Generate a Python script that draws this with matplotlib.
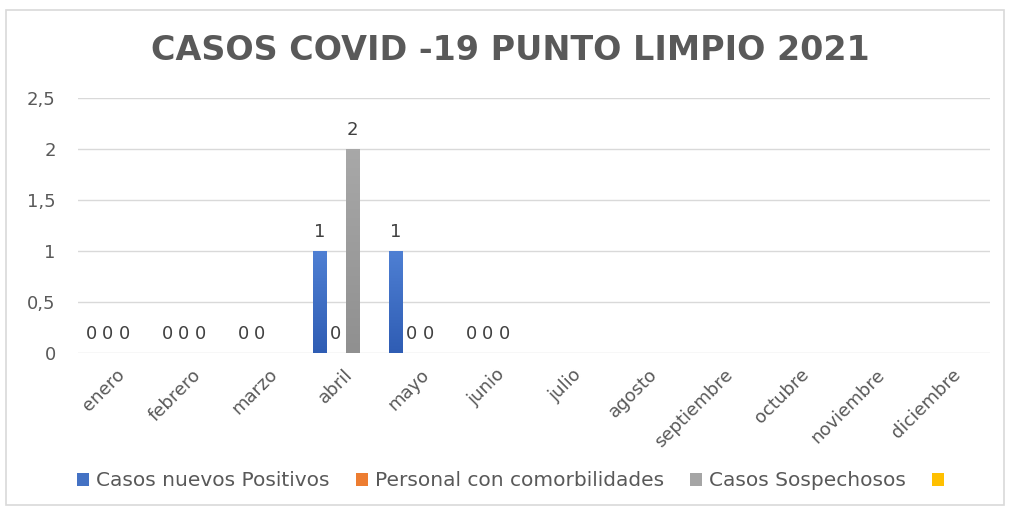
import matplotlib
matplotlib.use("Agg")
import matplotlib.pyplot as plt
import numpy as np
from matplotlib.patches import Rectangle, Patch
from matplotlib.colors import LinearSegmentedColormap

months = ["enero", "febrero", "marzo", "abril", "mayo", "junio", "julio",
          "agosto", "septiembre", "octubre", "noviembre", "diciembre"]
series_names = ["Casos nuevos Positivos", "Personal con comorbilidades",
                "Casos Sospechosos", ""]
positivos = [0, 0, 0, 1, 1, 0, None, None, None, None, None, None]
comorbilidades = [0, 0, 0, 0, 0, 0, None, None, None, None, None, None]
sospechosos = [0, 0, None, 2, 0, 0, None, None, None, None, None, None]
serie4 = [None] * 12
colors = ["#4472C4", "#ED7D31", "#A5A5A5", "#FFC000"]
grad = [("#2F5DB4", "#4E7FD3"), ("#D8691F", "#F08A45"), ("#909090", "#A8A8A8"), ("#E0A800", "#FFC61A")]
title = "CASOS COVID -19 PUNTO LIMPIO 2021"

plt.rcParams['font.family'] = ['DejaVu Sans']
txt = "#595959"

fig = plt.figure(figsize=(10.10, 5.08), dpi=100)
fig.patches.append(Rectangle((6/1010, 3/508), 998/1010, 495/508, transform=fig.transFigure,
                             fill=False, edgecolor="#D9D9D9", linewidth=1.2))
ax = fig.add_axes([78/1010, 1-353/508, 912/1010, 255/508])

x = np.arange(len(months))
step = 0.217
width = 0.172
all_series = [positivos, comorbilidades, sospechosos, serie4]
for i, (vals, c) in enumerate(zip(all_series, colors)):
    xs = x + (i - 1.5) * step
    hs = [v if v is not None else 0 for v in vals]
    bars = ax.bar(xs, hs, width=width, color=c, zorder=3)
    cmap = LinearSegmentedColormap.from_list("g%d" % i, list(grad[i]))
    for b in bars:
        h = b.get_height()
        if h > 0:
            x0 = b.get_x()
            ax.imshow(np.linspace(1, 0, 64).reshape(-1, 1), cmap=cmap, aspect="auto",
                      extent=(x0, x0 + b.get_width(), 0, h), zorder=4,
                      interpolation="bilinear")
    labels = ["" if v is None else f"{v:g}" for v in vals]
    ax.bar_label(bars, labels=labels, padding=7, fontsize=13, color="#404040")

ax.set_ylim(0, 2.5)
ax.set_xlim(-0.5, 11.5)
ax.set_yticks([0, 0.5, 1, 1.5, 2, 2.5])
ax.set_yticklabels(["0", "0,5", "1", "1,5", "2", "2,5"], fontsize=13, color=txt)
ax.set_xticks(x)
ax.set_xticklabels(months, rotation=45, ha="right", rotation_mode="anchor",
                   fontsize=13, color=txt)
ax.tick_params(axis='y', length=0, pad=16)
ax.tick_params(axis='x', length=0, pad=9)
ax.grid(axis='y', color="#D9D9D9", linewidth=1, zorder=0)
for s in ax.spines.values():
    s.set_visible(False)

fig.text(510/1010, 1-50/508, title, ha="center", va="center", fontsize=24,
         fontweight="bold", color=txt)

handles = [Patch(facecolor=c) for c in colors]
fig.legend(handles, series_names, loc="center", bbox_to_anchor=(514/1010, 1-481/508),
           ncol=4, frameon=False, fontsize=14.5, labelcolor=txt, handlelength=0.6,
           handleheight=0.6, handletextpad=0.35, columnspacing=1.3)

fig.savefig("out.png", dpi=100)
